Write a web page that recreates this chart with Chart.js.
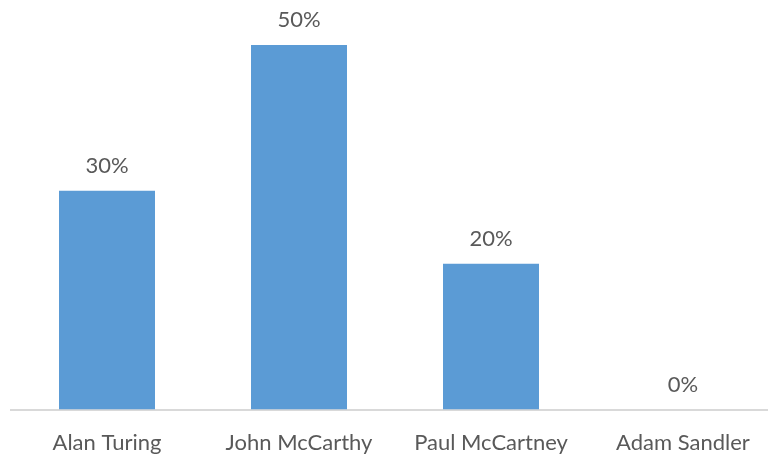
<!DOCTYPE html>
<html>
<head>
<meta charset="utf-8">
<script src="https://cdn.jsdelivr.net/npm/chart.js@4"></script>
<style>
  html, body { margin: 0; padding: 0; background: #fff; overflow: hidden; }
  #wrap { position: relative; width: 779px; height: 457px; }
</style>
</head>
<body>
<div id="wrap"><canvas id="chart"></canvas></div>
<script>
/*** data ***/
const nomes = ['Alan Turing', 'John McCarthy', 'Paul McCartney', 'Adam Sandler'];
const valores = [0.3, 0.5, 0.2, 0];

const corTexto = '#595959';
const fonte = 'Lato, "Liberation Sans", sans-serif';

// escreve o percentual acima de cada barra
const rotuloValor = {
  id: 'rotuloValor',
  afterDatasetsDraw(chart) {
    const ctx = chart.ctx;
    const meta = chart.getDatasetMeta(0);
    ctx.save();
    ctx.fillStyle = corTexto;
    ctx.font = '22px ' + fonte;
    ctx.textAlign = 'center';
    ctx.textBaseline = 'alphabetic';
    meta.data.forEach((bar, i) => {
      ctx.fillText(Math.round(valores[i] * 100) + '%', bar.x, bar.y - 18);
    });
    ctx.restore();
  },
};

new Chart(document.getElementById('chart'), {
  type: 'bar',
  data: {
    labels: nomes,
    datasets: [
      {
        data: valores,
        backgroundColor: '#5B9BD5',
        barPercentage: 0.5,
        categoryPercentage: 1,
      },
    ],
  },
  options: {
    responsive: true,
    maintainAspectRatio: false,
    animation: false,
    layout: {
      padding: { top: 45, left: 11, right: 0, bottom: 0 },
    },
    plugins: {
      legend: { display: false },
      tooltip: { enabled: false },
    },
    scales: {
      x: {
        grid: { display: false, drawTicks: false },
        border: { display: true, color: '#d9d9d9', width: 2 },
        ticks: {
          color: corTexto,
          padding: 20,
          font: { family: fonte, size: 22 },
        },
        // altura fixa do eixo para a linha base ficar em y=409.5
        afterFit(scale) {
          scale.height = 47.5;
        },
      },
      y: {
        display: false,
        min: 0,
        max: 0.5,
      },
    },
  },
  plugins: [rotuloValor],
});
</script>
</body>
</html>
